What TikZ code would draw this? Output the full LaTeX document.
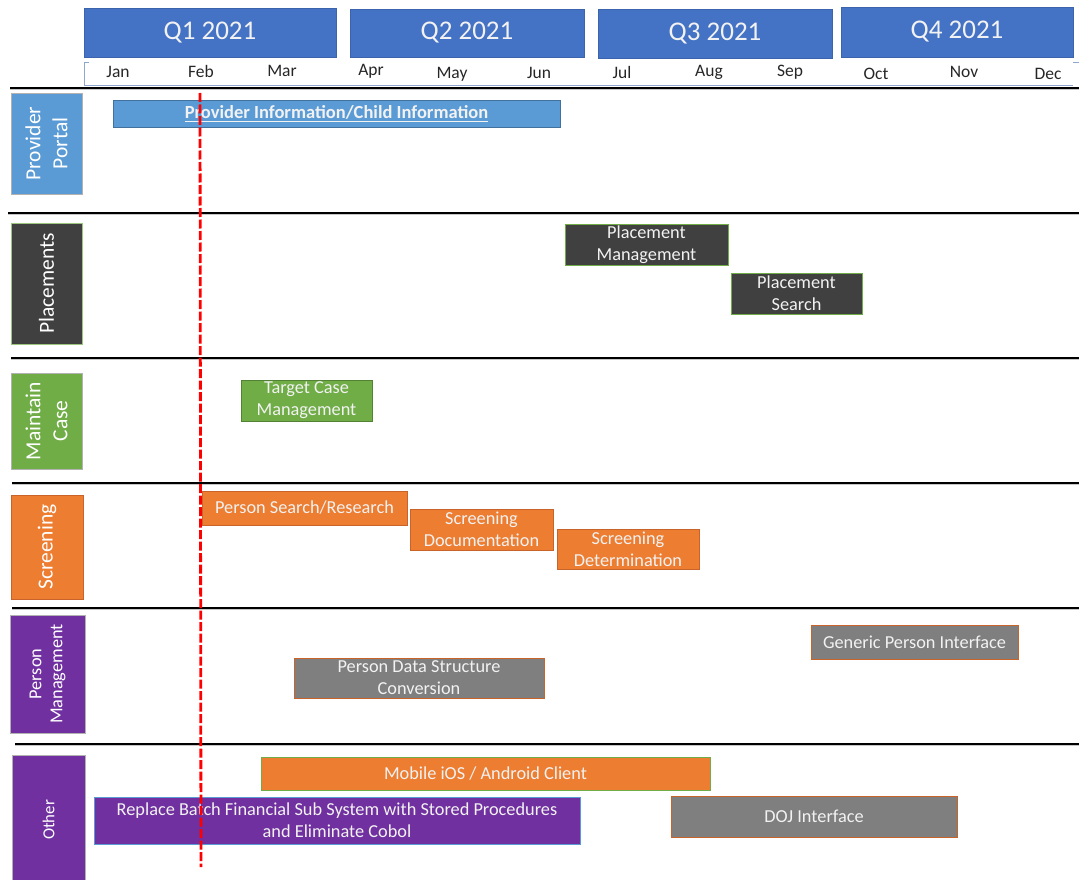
\documentclass[tikz,border=0pt]{standalone}
\usepackage{fontspec}
\setmainfont{Carlito}
\definecolor{qblue}{HTML}{4472C4}
\definecolor{qedge}{HTML}{3B64AD}
\definecolor{ppblue}{HTML}{5B9BD5}
\definecolor{ppedge}{HTML}{41719C}
\definecolor{dark}{HTML}{404040}
\definecolor{lgreen}{HTML}{70AD47}
\definecolor{gedge}{HTML}{548235}
\definecolor{orng}{HTML}{ED7D31}
\definecolor{oedge}{HTML}{C8642A}
\definecolor{purp}{HTML}{7030A0}
\definecolor{gry}{HTML}{7F7F7F}
\definecolor{pale}{HTML}{F2F2F2}
\definecolor{rule}{HTML}{8FA6CF}
\tikzset{
  quarter/.style={fill=qblue, draw=qedge, line width=0.8, text=pale,
    font=\fontsize{27}{30}\selectfont, inner sep=0},
  month/.style={font=\fontsize{17.5}{19}\selectfont, text=black!85, inner sep=0},
  lane/.style={rotate=90, draw=gray!60, line width=0.8, text=white, align=center,
    font=\fontsize{21.5}{27}\selectfont, inner sep=0},
  task/.style={line width=0.9, text=pale, align=center,
    font=\fontsize{18.3}{22}\selectfont, inner sep=0},
  sep/.style={line width=2.4, black},
  sepshade/.style={line width=1.2, gray!45},
}
\begin{document}
\begin{tikzpicture}[x=1pt, y=-1pt]
\useasboundingbox (0,0) rectangle (1079,880);

% quarter headers
\node[quarter, minimum width=252, minimum height=49] (q1) at (210,32.5) {Q1 2021};
\node[quarter, minimum width=234, minimum height=48] (q2) at (467,33) {Q2 2021};
\node[quarter, minimum width=234, minimum height=49] (q3) at (715,33.5) {Q3 2021};
\node[quarter, minimum width=232, minimum height=50] (q4) at (957,32) {Q4 2021};

% month strip
\draw[rule, line width=0.8] (89,62) -- (84,62) -- (84,85) -- (1073,85);
\draw[rule, line width=0.8] (1073,62) -- (1079,62);
\node[month] (jan) at (118,72) {Jan};
\node[month] (feb) at (201,71) {Feb};
\node[month] (mar) at (282,71) {Mar};
\node[month] (apr) at (371,71) {Apr};
\node[month] (may) at (452,74) {May};
\node[month] (jun) at (539,73) {Jun};
\node[month] (jul) at (622,72) {Jul};
\node[month] (aug) at (709,72) {Aug};
\node[month] (sep) at (790,72) {Sep};
\node[month] (oct) at (876,74) {Oct};
\node[month] (nov) at (964,72) {Nov};
\node[month] (dec) at (1048,74) {Dec};

% lane separators
\foreach \y/\x in {88/10, 213/8, 358/11, 483/12, 608/12, 744/15} {
  \draw[sepshade] (\x,\y+1.6) -- (1079,\y+1.6);
  \draw[sep] (\x,\y) -- (1079,\y);
}

% lane headers
\node[lane, fill=ppblue, minimum width=101, minimum height=71] (lpp) at (46.5,143.5) {Provider\\Portal};
\node[lane, fill=dark, draw=lgreen!70, minimum width=121, minimum height=71] (lpl) at (46.5,283.5) {Placements};
\node[lane, fill=lgreen, minimum width=96, minimum height=71] (lmc) at (46.5,421) {Maintain\\Case};
\node[lane, fill=orng, draw=oedge, minimum width=104, minimum height=72] (lsc) at (47,547) {Screening};
\node[lane, fill=purp, font=\fontsize{18.3}{21}\selectfont, minimum width=118, minimum height=75] (lpm) at (47.5,674) {Person\\Management};
\node[lane, fill=purp, font=\fontsize{16.8}{20}\selectfont, minimum width=130, minimum height=73] (lot) at (48.5,820) {Other};

% tasks
\node[task, fill=ppblue, draw=ppedge, minimum width=447, minimum height=27,
  font=\bfseries\fontsize{18.5}{20}\selectfont] (pinfo) at (336.5,113.5)
  {\underline{Provider Information/Child Information}};
\node[task, fill=dark, draw=lgreen, minimum width=163, minimum height=41] (plm) at (646.5,244.5) {Placement\\Management};
\node[task, fill=dark, draw=lgreen, minimum width=131, minimum height=41] (pls) at (796.5,293.5) {Placement\\Search};
\node[task, fill=lgreen, draw=gedge, minimum width=131, minimum height=41] (tcm) at (306.5,400.5) {Target Case\\Management};
\node[task, fill=orng, draw=oedge, minimum width=205, minimum height=34] (psr) at (304.5,508) {Person Search/Research};
\node[task, fill=orng, draw=oedge, minimum width=143, minimum height=41] (sdoc) at (481.5,529.5) {Screening\\Documentation};
\node[task, fill=orng, draw=oedge, minimum width=142, minimum height=40] (sdet) at (628,549) {Screening\\Determination};
\node[task, fill=gry, draw=oedge, minimum width=250, minimum height=40] (pdsc) at (419,678) {Person Data Structure\\Conversion};
\node[task, fill=gry, draw=oedge, minimum width=207, minimum height=34] (gpi) at (914.5,642) {Generic Person Interface};
\node[task, fill=orng, draw=lgreen, minimum width=449, minimum height=33] (mob) at (485.5,773.5) {Mobile iOS / Android Client};
\node[task, fill=purp, draw=ppblue, minimum width=486, minimum height=47] (rbf) at (337,820.5) {Replace Batch Financial Sub System with Stored Procedures\\and Eliminate Cobol};
\node[task, fill=gry, draw=oedge, minimum width=286, minimum height=41] (doj) at (814,816.5) {DOJ Interface};

% today marker
\coordinate (nowtop) at (200,93);
\coordinate (nowbot) at (201,867);
\draw[red, line width=2.8, dash pattern=on 9 off 2.5] (nowtop) -- (nowbot);
\end{tikzpicture}
\end{document}
